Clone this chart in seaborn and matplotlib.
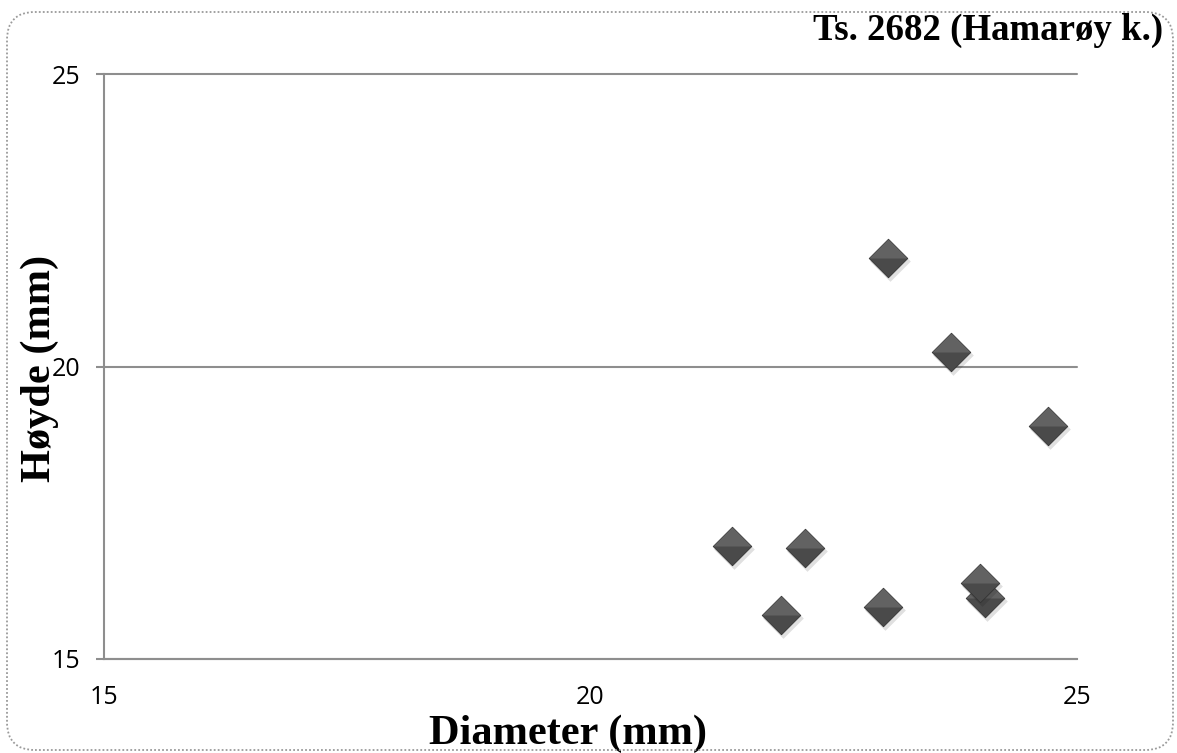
import matplotlib
matplotlib.use("Agg")
import matplotlib.pyplot as plt
import matplotlib.transforms as mtransforms
from matplotlib.patches import FancyBboxPatch
from matplotlib.path import Path
import seaborn as sns
import pandas as pd

# =========================================================
# Data
# =========================================================
diameter = [23.06, 23.70, 24.70, 21.45, 22.20, 21.96, 23.01, 24.05, 24.00]
hoyde = [21.85, 20.25, 18.98, 16.93, 16.90, 15.75, 15.89, 16.04, 16.30]

axis_ticks = [15, 20, 25]
title_text = "Ts. 2682 (Hamarøy k.)"
x_label = "Diameter (mm)"
y_label = "Høyde (mm)"

df = pd.DataFrame({"diameter": diameter, "hoyde": hoyde})

# =========================================================
# Style
# =========================================================
sns.set_theme(style="white")
plt.rcParams["font.family"] = ["Open Sans", "DejaVu Sans"]
plt.rcParams["text.color"] = "black"
plt.rcParams["axes.labelcolor"] = "black"

axis_grey = "#8e8e8e"
serif = ["Liberation Serif", "DejaVu Serif"]

fig = plt.figure(figsize=(11.77, 7.53), dpi=100)
ax = fig.add_axes([104 / 1177, 1 - 659 / 753, 973 / 1177, 585 / 753])

# diamond split in two halves to fake the bevel look
full_diamond = Path([(-1, 0), (0, 1), (1, 0), (0, -1), (-1, 0)],
                    [Path.MOVETO, Path.LINETO, Path.LINETO, Path.LINETO, Path.CLOSEPOLY])
top_half = Path([(-1, 0), (0, 1), (1, 0), (-1, 0)],
                [Path.MOVETO, Path.LINETO, Path.LINETO, Path.CLOSEPOLY])

shadow_tr = mtransforms.offset_copy(ax.transData, fig=fig, x=2, y=-3, units="dots")

# ------------------ markers ------------------
for i, row in df.iterrows():
    z = 3 + 4 * i
    ax.scatter(row["diameter"], row["hoyde"], marker=full_diamond, s=860,
               color="black", alpha=0.12, linewidths=0, transform=shadow_tr, zorder=z)
    sns.scatterplot(x=[row["diameter"]], y=[row["hoyde"]], marker=full_diamond, s=770,
                    color="#4a4a4a", edgecolor="#333333", linewidth=0.6, ax=ax, zorder=z + 1)
    ax.scatter(row["diameter"], row["hoyde"], marker=top_half, s=740,
               color="#626262", linewidths=0, zorder=z + 2)

# ------------------ axes ------------------
ax.set_xlim(15, 25)
ax.set_ylim(15, 25)
ax.set_xticks(axis_ticks)
ax.set_yticks(axis_ticks)
ax.set_xticklabels([str(t) for t in axis_ticks])
ax.set_yticklabels([str(t) for t in axis_ticks])

for side in ["top", "right"]:
    ax.spines[side].set_visible(False)
for side in ["left", "bottom"]:
    ax.spines[side].set_color(axis_grey)
    ax.spines[side].set_linewidth(1.5)

ax.tick_params(axis="y", direction="out", length=5.8, width=1.5, color=axis_grey,
               pad=11, labelsize=18, labelcolor="black", left=True)
ax.tick_params(axis="x", length=0, pad=19, labelsize=18, labelcolor="black")

ax.yaxis.grid(True, color=axis_grey, linewidth=1.5)
ax.xaxis.grid(False)
ax.set_axisbelow(True)
for gl in ax.yaxis.get_gridlines():
    gl.set_clip_on(False)

# ------------------ labels ------------------
ax.set_xlabel(x_label, fontsize=30.5, fontweight="bold", family=serif, va="center", color="black")
ax.xaxis.set_label_coords((568 - 104) / 973, (659 - 734) / 585)
ax.set_ylabel(y_label, fontsize=30.5, fontweight="bold", family=serif, va="center", color="black")
ax.yaxis.set_label_coords((40 - 104) / 973, (659 - 368) / 585)

fig.text(1163 / 1177, 1 - 30 / 753, title_text, ha="right", va="center",
         fontsize=26.6, fontweight="bold", family=serif, color="black")

# ------------------ rounded dotted frame ------------------
frame = FancyBboxPatch((0.07, 0.03), 11.66, 7.38,
                       boxstyle="round,pad=0,rounding_size=0.28",
                       transform=fig.dpi_scale_trans, fill=False,
                       edgecolor="#9a9a9a", linewidth=1.3, linestyle=(0, (1, 1.2)))
fig.patches.append(frame)

fig.savefig("out.png", dpi=100)
plt.close(fig)
